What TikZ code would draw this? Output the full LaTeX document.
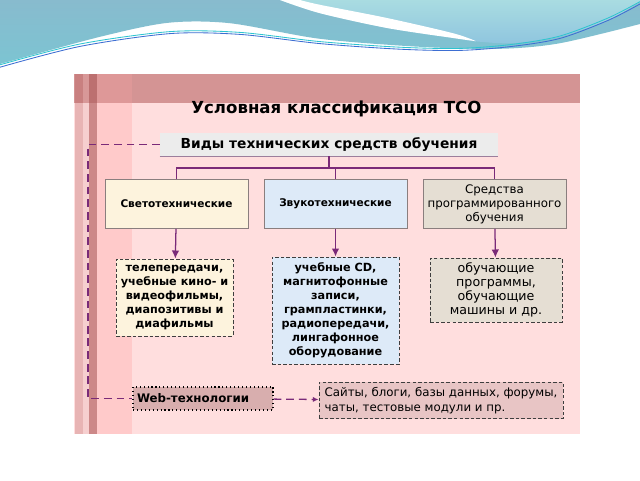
\documentclass[tikz,border=0pt]{standalone}
\usepackage{fontspec}
\setmainfont{DejaVu Sans}
\usetikzlibrary{arrows.meta}

\definecolor{tealc}{HTML}{7CC4D2}
\definecolor{tealtop}{HTML}{88BBCE}
\definecolor{cyanlt}{HTML}{A9DCE1}
\definecolor{cyanlow}{HTML}{8FC5DF}
\definecolor{waveblue}{HTML}{3D6ED2}
\definecolor{wavecyan}{HTML}{2EC4D0}
\definecolor{panelc}{HTML}{FFDEDE}
\definecolor{bandc}{HTML}{D49494}
\definecolor{stripea}{HTML}{E8B4B4}
\definecolor{stripeatop}{HTML}{C98080}
\definecolor{stripeb}{HTML}{F6CFCF}
\definecolor{stripebtop}{HTML}{D89898}
\definecolor{stripec}{HTML}{CC8888}
\definecolor{stripectop}{HTML}{BC7070}
\definecolor{striped}{HTML}{FFCACA}
\definecolor{stripedtop}{HTML}{DE9898}
\definecolor{linkc}{HTML}{7A2A78}
\definecolor{boxline}{HTML}{8A7E7E}
\definecolor{dashline}{HTML}{3E3E3E}
\definecolor{headfill}{HTML}{ECECEC}
\definecolor{headline}{HTML}{9C7E9C}
\definecolor{beige}{HTML}{FDF3DD}
\definecolor{paleblue}{HTML}{DDEAF8}
\definecolor{greige}{HTML}{E5DED3}
\definecolor{webfill}{HTML}{D8AEAE}
\definecolor{sitefill}{HTML}{E8C5C5}

\begin{document}
\begin{tikzpicture}[
  catbox/.style={
    draw=boxline,
    line width=0.6pt,
    minimum width=3.575cm,
    minimum height=1.225cm,
    align=center,
    font=\fontsize{7.5}{10}\selectfont\bfseries
  },
  itembox/.style={
    draw=dashline,
    dash pattern=on 2.5pt off 1.5pt,
    line width=0.7pt,
    align=center,
    font=\fontsize{8}{10}\selectfont\bfseries
  },
  link/.style={
    draw=linkc,
    line width=0.9pt
  },
  arrow/.style={
    link,
    -{Latex[length=2mm, width=1.9mm]}
  },
  webline/.style={
    draw=linkc,
    line width=0.9pt,
    dash pattern=on 5.5pt off 3.5pt
  }
]

\useasboundingbox (0,0) rectangle (16,-12);
\fill[white] (0,0) rectangle (16,-12);

% wave on top
\shade[top color=tealtop, bottom color=tealc] (0,0) -- plot[smooth] coordinates {(0,-1.6) (2.5,-0.92) (4.2,-0.57) (5.75,-0.58) (8,-0.97) (10.5,-1.17) (12.5,-1.22) (14,-1.08) (16,-0.6)} -- (16,0) -- cycle;
\shade[top color=cyanlt, bottom color=cyanlow] (7.0,0) -- plot[smooth] coordinates {(7.0,0) (8,-0.33) (9.675,-0.7) (11.325,-0.95) (11.85,-1.03) (12.8,-1.08) (14,-0.92) (15.2,-0.5) (16,-0.05)} -- (16,0) -- cycle;
\fill[white] plot[smooth] coordinates {(7.0,0) (8,-0.33) (9.675,-0.7) (11.325,-0.95) (11.9,-1.03)} -- plot[smooth] coordinates {(11.9,-1.03) (11.325,-0.83) (9.675,-0.45) (8,-0.12) (7.5,0)} -- cycle;
\fill[white] plot[smooth] coordinates {(0,-1.62) (2.5,-0.95) (4.2,-0.62) (5.75,-0.63) (8,-1.0) (10.5,-1.2) (11.6,-1.25)} -- plot[smooth] coordinates {(11.6,-1.25) (10,-1.24) (8,-1.12) (6,-0.9) (4.25,-0.87) (2,-1.2) (0,-1.72)} -- cycle;
\draw[wavecyan, line width=0.6pt] plot[smooth] coordinates {(0,-1.62) (2,-1.1) (4.25,-0.79) (6,-0.81) (8,-1.04) (10,-1.18) (11.5,-1.21) (12.8,-1.11) (14,-0.9) (15.2,-0.45) (16,-0.04)};
\draw[waveblue, line width=0.6pt] plot[smooth] coordinates {(0,-1.68) (2,-1.16) (4.25,-0.84) (6,-0.86) (8,-1.09) (10,-1.23) (11.5,-1.26) (12.8,-1.16) (14,-0.96) (15.2,-0.51) (16,-0.1)};

% panel
\fill[panelc] (1.85,-1.85) rectangle (14.5,-10.85);
\fill[bandc] (1.85,-1.85) rectangle (14.5,-2.575);
\fill[striped] (2.425,-2.575) rectangle (3.3,-10.85);
\fill[stripedtop] (2.425,-1.85) rectangle (3.3,-2.575);
\fill[stripea] (1.875,-2.575) rectangle (2.075,-10.85);
\fill[stripeatop] (1.875,-1.85) rectangle (2.075,-2.575);
\fill[stripeb] (2.075,-2.575) rectangle (2.225,-10.85);
\fill[stripebtop] (2.075,-1.85) rectangle (2.225,-2.575);
\fill[stripec] (2.225,-2.575) rectangle (2.425,-10.85);
\fill[stripectop] (2.225,-1.85) rectangle (2.425,-2.575);

\node[font=\fontsize{11.8}{13}\selectfont\bfseries] (title) at (8.41,-2.72) {Условная классификация ТСО};

\node[fill=headfill, minimum width=8.45cm, minimum height=0.575cm, font=\fontsize{9.8}{12}\selectfont\bfseries] (kinds) at (8.225,-3.6125) {Виды технических средств обучения};
\draw[headline, line width=0.8pt] (kinds.south west) -- (kinds.south east);

\node[catbox, fill=beige]    (light) at (4.4125,-5.1)  {Светотехнические};
\node[catbox, fill=paleblue] (sound) at (8.3875,-5.09) {Звукотехнические};
\node[catbox, fill=greige, inner xsep=1pt, font=\fontsize{8.4}{10}\selectfont] (prog) at (12.3625,-5.1) {Средства\\программированного\\обучения};

\coordinate (bus) at (8.3,-4.2);
\draw[link] (kinds.south) -- (kinds.south |- bus);
\draw[link] (light.north) |- (bus) -| (prog.north);
\draw[link] (sound.north) -- (sound.north |- bus);

\node[itembox, fill=beige, minimum width=2.925cm, minimum height=1.925cm] (lightex) at (4.3625,-7.4375) {телепередачи,\\учебные кино- и\\видеофильмы,\\диапозитивы и\\диафильмы};
\node[itembox, fill=paleblue, minimum width=3.175cm, minimum height=2.675cm] (soundex) at (8.3875,-7.7625) {учебные CD,\\магнитофонные\\записи,\\грампластинки,\\радиопередачи,\\лингафонное\\оборудование};
\node[itembox, fill=greige, minimum width=3.3cm, minimum height=1.6cm, font=\fontsize{9}{10}\selectfont] (progex) at (12.4,-7.25) {обучающие\\программы,\\обучающие\\машины и др.};

\draw[arrow] (light) -- (lightex);
\draw[arrow] (sound) -- (soundex);
\draw[arrow] (prog)  -- (progex);

\node[draw=black, dotted, line width=0.8pt, fill=webfill, text width=3.3cm, inner sep=0.1cm, minimum height=0.575cm, align=left, font=\fontsize{8.4}{10}\selectfont\bfseries] (web) at (5.075,-9.9625) {Web-технологии};
\node[itembox, fill=sitefill, minimum width=6.1cm, minimum height=0.825cm, inner xsep=2pt, align=left, font=\fontsize{8.4}{11}\selectfont] (sites) at (11.025,-10.0125) {Сайты, блоги, базы данных, форумы,\\чаты, тестовые модули и пр.};

\coordinate (side) at (2.2,0);
\draw[webline] (kinds.west) -- (kinds.west -| side) |- (web.west);
\draw[webline, -{Latex[length=1.4mm, width=1.3mm]}] (web) -- (sites);

\end{tikzpicture}
\end{document}
